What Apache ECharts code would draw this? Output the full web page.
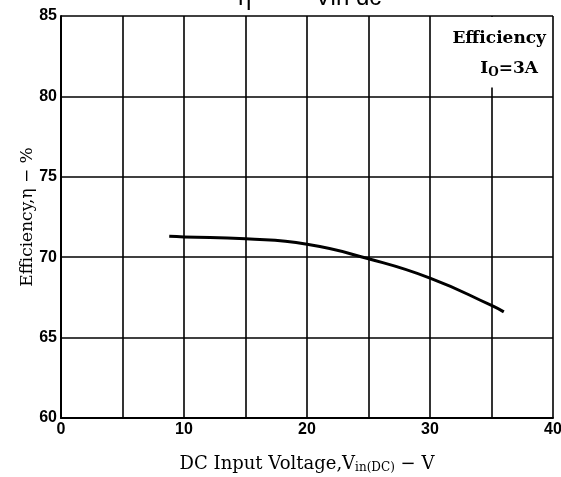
<!DOCTYPE html>
<html>
<head>
<meta charset="utf-8">
<script src="https://cdn.jsdelivr.net/npm/echarts@6/dist/echarts.min.js"></script>
<style>
  html, body { margin: 0; padding: 0; background: #fff; }
  #chart { width: 561px; height: 477px; }
</style>
</head>
<body>
<div id="chart"></div>
<script>
  var voltage = [8.8, 10, 15, 20, 25, 30, 35, 36];
  var efficiency = [71.3, 71.26, 71.14, 70.8, 69.9, 68.7, 67.0, 66.6];
  var xTicks = [0, 10, 20, 30, 40];
  var yTicks = [60, 65, 70, 75, 80, 85];

  var serif = '"DejaVu Serif", "Liberation Serif", serif';
  var sans = '"Liberation Sans", Arial, sans-serif';

  var chart = echarts.init(document.getElementById('chart'));
  chart.setOption({
    animation: false,
    grid: { left: 61, right: 8, top: 16, bottom: 59, outerBoundsMode: 'none', containLabel: false },
    xAxis: {
      type: 'value',
      min: 0,
      max: 40,
      interval: 5,
      name: 'DC Input Voltage,V{sub|in(DC)} − V',
      nameLocation: 'middle',
      nameGap: 36,
      nameMoveOverlap: false,
      nameTextStyle: {
        fontFamily: serif, fontSize: 18, color: '#000',
        rich: { sub: { fontFamily: serif, fontSize: 12, color: '#000', verticalAlign: 'bottom', padding: [8, 0, 0, 0] } }
      },
      axisLine: { lineStyle: { color: '#000', width: 2 } },
      axisTick: { show: false },
      splitLine: { show: true, lineStyle: { color: '#000', width: 1.6 } },
      axisLabel: {
        margin: 4,
        fontFamily: sans, fontWeight: 'bold', fontSize: 16, color: '#000',
        formatter: function (v) { return xTicks.indexOf(v) >= 0 ? String(v) : ''; }
      }
    },
    yAxis: {
      type: 'value',
      min: 60,
      max: 85,
      interval: 5,
      name: 'Efficiency,η − %',
      nameLocation: 'middle',
      nameGap: 25,
      nameMoveOverlap: false,
      nameTextStyle: { fontFamily: serif, fontSize: 17, color: '#000' },
      axisLine: { show: true, lineStyle: { color: '#000', width: 2 } },
      axisTick: { show: false },
      splitLine: { show: true, lineStyle: { color: '#000', width: 1.6 } },
      axisLabel: {
        margin: 4,
        fontFamily: sans, fontWeight: 'bold', fontSize: 16, color: '#000',
        formatter: function (v) { return yTicks.indexOf(v) >= 0 ? String(v) : ''; }
      }
    },
    graphic: [
      { type: 'text', z: 100, left: 238, top: -14, style: { text: 'η', font: '24px ' + sans, fill: '#000' } },
      { type: 'text', z: 100, left: 315, top: -14, style: { text: 'Vin dc', font: '24px ' + sans, fill: '#000' } },
      { type: 'text', z: 100, right: 15, top: 30, style: { text: 'Efficiency', font: 'bold 17px ' + serif, fill: '#000' } },
      { type: 'text', z: 100, right: 23, top: 60, style: { text: '{a|I}{s|O}{a|=3A}', rich: { a: { font: 'bold 17px ' + serif, fill: '#000' }, s: { font: 'bold 12px ' + serif, fill: '#000', padding: [8, 0, 0, 0] } } } }
    ],
    series: [{
      type: 'line',
      smooth: true,
      symbol: 'none',
      data: voltage.map(function (v, i) { return [v, efficiency[i]]; }),
      lineStyle: { color: '#000', width: 3 },
      markArea: {
        silent: true,
        itemStyle: { color: '#fff' },
        data: [[{ coord: [33, 80.55] }, { coord: [37, 84.94] }]]
      }
    }]
  });
</script>
</body>
</html>
